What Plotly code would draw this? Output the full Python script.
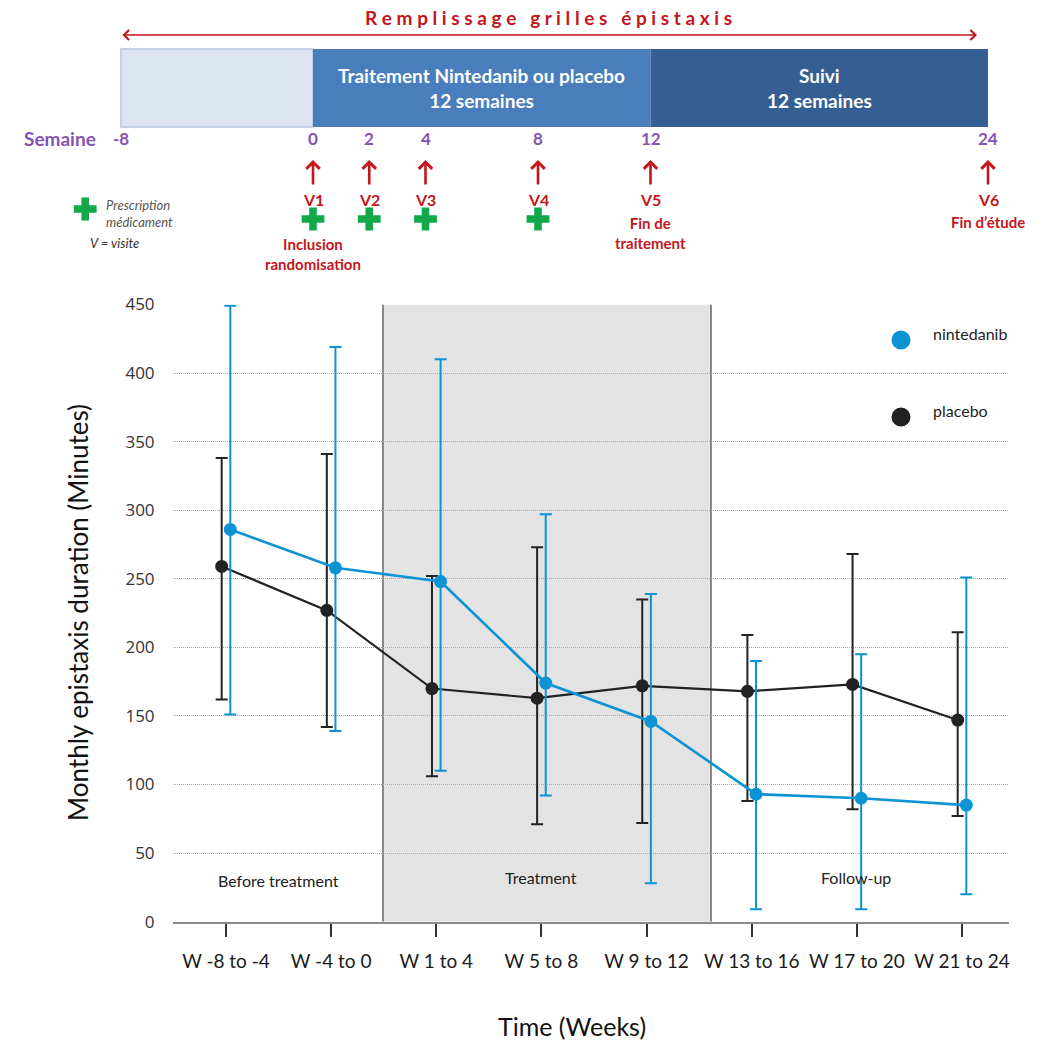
import numpy as np
import plotly.graph_objects as go

# ---------------- data ----------------
categories = ["W -8 to -4", "W -4 to 0", "W 1 to 4", "W 5 to 8",
              "W 9 to 12", "W 13 to 16", "W 17 to 20", "W 21 to 24"]

nintedanib_mean = [286, 258, 248, 174, 146, 93, 90, 85]
nintedanib_upper = [449, 419, 410, 297, 239, 190, 195, 251]
nintedanib_lower = [151, 139, 110, 92, 28, 9, 9, 20]

placebo_mean = [259, 227, 170, 163, 172, 168, 173, 147]
placebo_upper = [338, 341, 252, 273, 235, 209, 268, 211]
placebo_lower = [162, 142, 106, 71, 72, 88, 82, 77]

y_ticks = [0, 50, 100, 150, 200, 250, 300, 350, 400, 450]

# study timeline (weeks)
timeline_weeks = [-8, 0, 2, 4, 8, 12, 24]
visit_weeks = [0, 2, 4, 8, 12, 24]
visit_labels = ["V1", "V2", "V3", "V4", "V5", "V6"]
visit_notes = ["Inclusion<br>randomisation", "", "", "", "Fin de<br>traitement", "Fin d’étude"]
prescription_weeks = [0, 2, 4, 8]

# ---------------- style ----------------
W, H = 1046, 1043
BLUE = "#0b93d3"
DARK = "#222222"
RED = "#c3161c"
PURPLE = "#8453b4"
GREEN = "#12a84a"
FONT = "Lato"

# run-in period is drawn compressed on the timeline
RUNIN_POS = -6.83


def tl_pos(w):
    return RUNIN_POS if w == -8 else w


fig = go.Figure()

x_idx = np.arange(len(categories))
OFFSET = 0.041


def add_series(name, mean, upper, lower, color, dx, lw):
    mean = np.asarray(mean, dtype=float)
    up = np.asarray(upper, dtype=float) - mean
    lo = mean - np.asarray(lower, dtype=float)
    fig.add_trace(go.Scatter(
        x=x_idx + dx, y=mean, mode="lines+markers", name=name,
        line=dict(color=color, width=lw),
        marker=dict(color=color, size=13),
        error_y=dict(type="data", symmetric=False, array=up, arrayminus=lo,
                     color=color, thickness=2, width=6),
        showlegend=False, xaxis="x", yaxis="y"))


add_series("placebo", placebo_mean, placebo_upper, placebo_lower, DARK, -OFFSET, 2.2)
add_series("nintedanib", nintedanib_mean, nintedanib_upper, nintedanib_lower, BLUE, OFFSET, 2.6)

# treatment period shading
shapes = [
    dict(type="rect", xref="x", yref="y", x0=1.493, x1=4.613, y0=0, y1=450,
         fillcolor="#e3e3e3", line=dict(width=0), layer="below"),
    dict(type="line", xref="x", yref="y", x0=1.493, x1=1.493, y0=0, y1=450,
         line=dict(color="#444444", width=1.2), layer="below"),
    dict(type="line", xref="x", yref="y", x0=4.613, x1=4.613, y0=0, y1=450,
         line=dict(color="#444444", width=1.2), layer="below"),
]

annotations = []
for txt, xc, yc in [("Before treatment", 0.5, 30), ("Treatment", 3.0, 32), ("Follow-up", 5.99, 32)]:
    annotations.append(dict(text=txt, x=xc, y=yc, xref="x", yref="y", showarrow=False,
                            font=dict(family=FONT, size=16, color=DARK)))

# legend
for name, color, py in [("nintedanib", BLUE, 340), ("placebo", DARK, 417)]:
    shapes.append(dict(type="circle", xref="paper", yref="paper",
                       xsizemode="pixel", ysizemode="pixel",
                       xanchor=901 / W, yanchor=1 - py / H,
                       x0=-9.5, x1=9.5, y0=-9.5, y1=9.5,
                       fillcolor=color, line=dict(width=0)))
    annotations.append(dict(text=name, x=931 / W, y=1 - (py - 6) / H, xref="paper", yref="paper",
                            xanchor="left", yanchor="middle", showarrow=False,
                            font=dict(family=FONT, size=16, color=DARK)))

# axis titles
annotations.append(dict(text="Monthly epistaxis duration (Minutes)", x=78 / W, y=1 - 613 / H,
                        xref="paper", yref="paper", xanchor="center", yanchor="middle",
                        textangle=-90, showarrow=False,
                        font=dict(family=FONT, size=26, color="#111111")))
annotations.append(dict(text="Time (Weeks)", x=572 / W, y=1 - 1026 / H,
                        xref="paper", yref="paper", xanchor="center", yanchor="middle",
                        showarrow=False, font=dict(family=FONT, size=25, color="#111111")))

# ---------------- study timeline ----------------
BAR_TOP, BAR_BOT = 49, 127
shapes += [
    dict(type="rect", xref="x2", yref="y2", x0=RUNIN_POS, x1=0, y0=BAR_TOP, y1=BAR_BOT,
         fillcolor="#dce5f1", line=dict(color="#b7c8de", width=1.5)),
    dict(type="rect", xref="x2", yref="y2", x0=0, x1=12, y0=BAR_TOP, y1=BAR_BOT,
         fillcolor="#4a7dbb", line=dict(width=0)),
    dict(type="rect", xref="x2", yref="y2", x0=12, x1=24, y0=BAR_TOP, y1=BAR_BOT,
         fillcolor="#355f93", line=dict(width=0)),
]

spaced = "\u00a0".join("Remplissage") + "\u00a0\u00a0\u00a0" + "\u00a0".join("grilles") + \
         "\u00a0\u00a0\u00a0" + "\u00a0".join("épistaxis")
annotations.append(dict(text="<b>" + spaced + "</b>", x=8.36, y=17, xref="x2", yref="y2",
                        showarrow=False, font=dict(family=FONT, size=19, color=RED)))
annotations.append(dict(text="", x=23.61, y=35, ax=RUNIN_POS, ay=35, xref="x2", yref="y2",
                        axref="x2", ayref="y2", showarrow=True, arrowside="end+start",
                        arrowhead=4, arrowsize=1.3, arrowwidth=1.5, arrowcolor=RED))

for txt, xc in [("Traitement Nintedanib ou placebo<br>12 semaines", 6),
                ("Suivi<br>12 semaines", 18)]:
    annotations.append(dict(text="<b>" + txt + "</b>", x=xc, y=88, xref="x2", yref="y2",
                            showarrow=False, font=dict(family=FONT, size=19, color="white")))

annotations.append(dict(text="<b>Semaine</b>", x=60 / W, y=138, xref="paper", yref="y2",
                        xanchor="center", showarrow=False,
                        font=dict(family=FONT, size=19, color=PURPLE)))
for w in timeline_weeks:
    annotations.append(dict(text="<b>%d</b>" % w, x=tl_pos(w), y=138, xref="x2", yref="y2",
                            showarrow=False, font=dict(family=FONT, size=17, color=PURPLE)))

for w, lab, note in zip(visit_weeks, visit_labels, visit_notes):
    annotations.append(dict(text="", x=w, y=160, ax=w, ay=186, xref="x2", yref="y2",
                            axref="x2", ayref="y2", showarrow=True, arrowhead=4,
                            arrowsize=1, arrowwidth=2.6, arrowcolor=RED))
    annotations.append(dict(text="<b>" + lab + "</b>", x=w, y=199, xref="x2", yref="y2",
                            showarrow=False, font=dict(family=FONT, size=16, color=RED)))
    if note:
        n_lines = note.count("<br>") + 1
        ny = 254 if w == 0 else 222 + (n_lines - 1) * 10.5
        annotations.append(dict(text="<b>" + note + "</b>", x=w, y=ny, xref="x2", yref="y2",
                                showarrow=False, font=dict(family=FONT, size=15, color=RED)))

fig.add_trace(go.Scatter(x=prescription_weeks, y=[219] * len(prescription_weeks),
                         mode="markers", xaxis="x2", yaxis="y2", showlegend=False,
                         hoverinfo="skip",
                         marker=dict(symbol="cross", size=19, color=GREEN, line=dict(width=0))))

# timeline key
fig.add_trace(go.Scatter(x=[-8.1], y=[209], mode="markers", xaxis="x2", yaxis="y2",
                         showlegend=False, hoverinfo="skip",
                         marker=dict(symbol="cross", size=19, color=GREEN, line=dict(width=0))))
annotations.append(dict(text="<i>Prescription<br>médicament</i>", x=104 / W, y=213,
                        xref="paper", yref="y2", xanchor="left", showarrow=False, align="left",
                        font=dict(family=FONT, size=13, color="#555555")))
annotations.append(dict(text="<i>V = visite</i>", x=88 / W, y=243,
                        xref="paper", yref="y2", xanchor="left", showarrow=False,
                        font=dict(family=FONT, size=13, color="#333333")))

# ---------------- layout ----------------
PX_PER_WEEK = (988 - 313) / 24.0
fig.update_layout(
    width=W, height=H, margin=dict(l=0, r=0, t=0, b=0),
    paper_bgcolor="white", plot_bgcolor="rgba(0,0,0,0)",
    template="none", showlegend=False,
    shapes=shapes, annotations=annotations,
    xaxis=dict(domain=[173 / W, 1009 / W], range=[-0.504, 7.447],
               tickvals=list(x_idx), ticktext=categories,
               ticks="outside", ticklen=13, tickwidth=2, tickcolor="#333333",
               ticklabelstandoff=8,
               showline=True, linecolor="#8a8a8a", linewidth=2,
               showgrid=False, zeroline=False, automargin=False,
               tickfont=dict(family=FONT, size=19, color="#1a1a1a"), anchor="y"),
    yaxis=dict(domain=[1 - 921.7 / H, 1 - 304.5 / H], range=[0, 450],
               tickvals=y_ticks, ticks="outside", ticklen=14, tickcolor="rgba(0,0,0,0)",
               showgrid=True, gridcolor="#a8a8a8", griddash="1px,1px", gridwidth=1,
               showline=False, zeroline=False, automargin=False,
               tickfont=dict(family="Open Sans", size=17, color="#333333"), anchor="x"),
    xaxis2=dict(domain=[0, 1], range=[-313 / PX_PER_WEEK, (W - 313) / PX_PER_WEEK],
                visible=False, anchor="y2", fixedrange=True),
    yaxis2=dict(domain=[1 - 290 / H, 1], range=[290, 0], visible=False,
                anchor="x2", fixedrange=True),
)

fig.write_html("out.html")
